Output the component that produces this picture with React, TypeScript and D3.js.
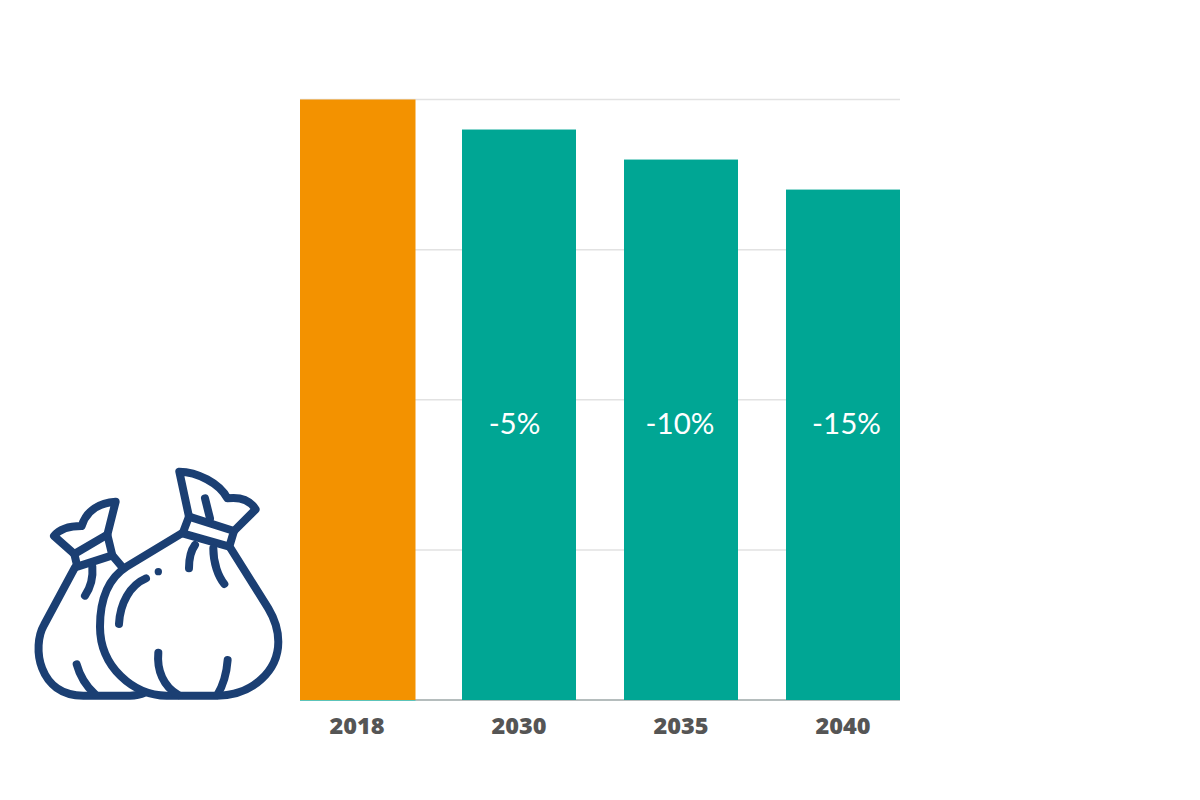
import React from "react";
import * as d3 from "d3";

const categories = ["2018", "2030", "2035", "2040"];
const values = [100, 95, 90, 85];
const barColors = ["#F39200", "#00A694", "#00A694", "#00A694"];
const changeLabels = ["", "-5%", "-10%", "-15%"];
const changeLabelOffsets = [0, -4.5, -1, 3.5];
const gridTicks = [25, 50, 75, 100];

const iconPaths = [
  "M165 352 L72 525 C35 590 55 737 190 737 L330 737 Q355 737 375 728",
  "M163 312 L102 258 C120 235 150 228 185 228 C200 180 240 158 287 155 L262 254 L163 312",
  "M163 312 L172 350 L277 316 L262 254",
  "M277 316 L310 355",
  "M217 350 C220 385 210 415 195 437",
  "M170 643 C180 680 200 710 225 733",
  "M485 250 L320 350 C265 385 240 450 240 530 C240 650 340 737 440 737 L590 737 C700 737 775 660 775 575 C775 530 760 500 745 475 L632 295",
  "M507 200 L642 243 L628 290 L488 250 Z",
  "M507 200 L478 65 C530 65 600 100 622 145 C660 140 690 150 707 178 L642 243",
  "M555 145 L570 205",
  "M525 285 C510 305 507 330 507 355",
  "M580 295 C580 340 595 380 613 402",
  "M378 385 C330 405 300 460 297 522",
  "M415 608 C410 660 430 710 475 735",
  "M623 630 C620 670 610 705 592 735",
];

export default function App() {
  const x = d3.scaleBand<string>().domain(categories).range([300, 900]).paddingInner(0.2963).paddingOuter(0);
  const y = d3.scaleLinear().domain([0, 100]).range([700, 99.5]);
  return (
    <svg width={1200} height={800} style={{ position: "absolute", left: 0, top: 0, background: "#fff" }}>
      {gridTicks.map((t) => (
        <line key={t} x1={300} x2={900} y1={y(t)} y2={y(t)} stroke="#E2E2E2" strokeWidth={1.5} />
      ))}
      <line x1={300} x2={900} y1={y(0)} y2={y(0)} stroke="#B5BDBD" strokeWidth={2} />
      {categories.map((c, i) => (
        <rect key={c} x={x(c)} y={y(values[i])} width={x.bandwidth() + (i === 0 ? 1.5 : 0)} height={y(0) - y(values[i])} fill={barColors[i]} />
      ))}
      <line x1={300} x2={415.5} y1={700.5} y2={700.5} stroke="#5CC4BA" strokeWidth={1} />
      {categories.map((c) => (
        <text key={c} x={x(c)! + x.bandwidth() / 2} y={734} textAnchor="middle" fontFamily="'Open Sans'" fontWeight={800} fontSize={23.5} fill="#555555">
          {c}
        </text>
      ))}
      {categories.map((c, i) =>
        changeLabels[i] ? (
          <text key={c} x={x(c)! + x.bandwidth() / 2 + changeLabelOffsets[i]} y={434} textAnchor="middle" fontFamily="Lato" fontSize={29.5} fill="#fff">
            {changeLabels[i]}
          </text>
        ) : null
      )}
      <g transform="translate(20,450) scale(0.3333)" fill="none" stroke="#1B3F73" strokeWidth={24} strokeLinecap="round" strokeLinejoin="round">
        {iconPaths.map((d) => (
          <path key={d} d={d} />
        ))}
        <circle cx={415} cy={365} r={11} fill="#1B3F73" stroke="none" />
      </g>
    </svg>
  );
}
